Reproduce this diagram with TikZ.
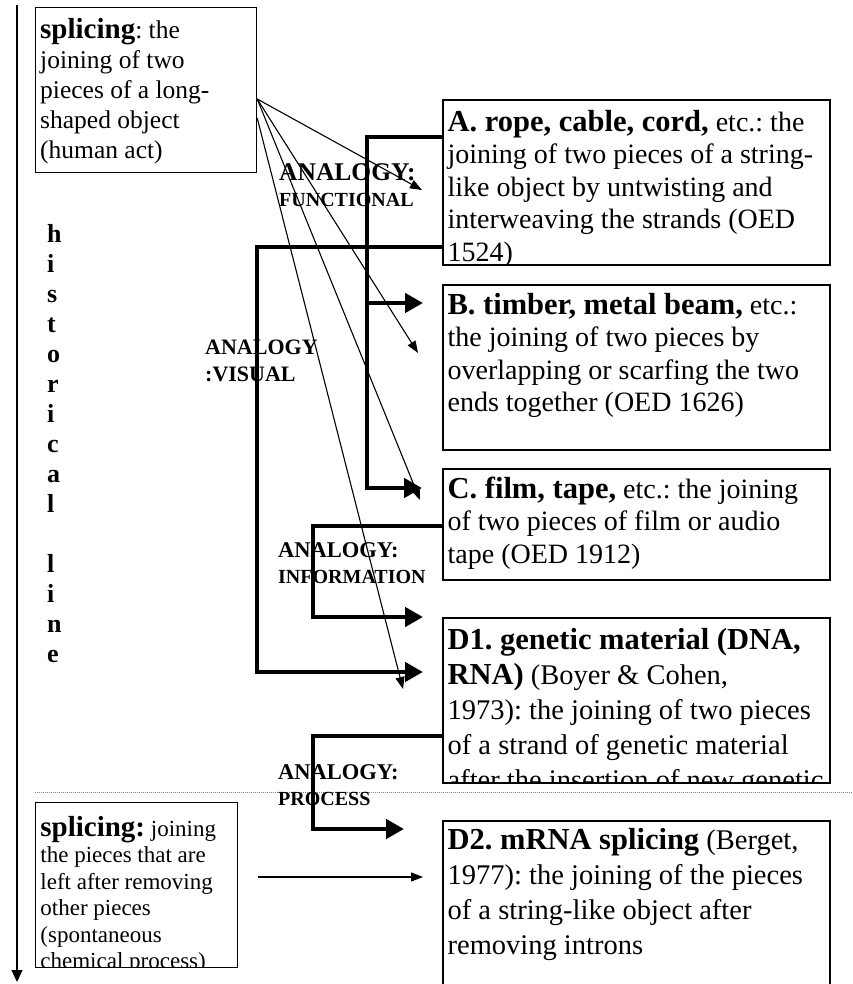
\documentclass[tikz,border=0pt]{standalone}
\usepackage{fontspec}
\setmainfont{Liberation Serif}
\usetikzlibrary{arrows.meta}

\newcommand{\entryhead}[2]{{\bfseries\fontsize{30.5}{#1}\selectfont #2}}

\tikzset{
  entry/.style={draw, line width=1.6pt, anchor=north west, inner sep=0pt, minimum width=387pt},
  entrytext/.style={draw=none, minimum width=0pt, minimum height=0pt, anchor=north west, inner sep=0pt, align=left, font=\fontsize{28}{32.5}\selectfont},
  bracket/.style={line width=4.5pt, -{Triangle[length=18pt,width=19pt]}},
  pointer/.style={line width=1.1pt, -{Triangle[length=12pt,width=9pt]}},
  tag/.style={anchor=north west, inner sep=0pt, align=left, font=\bfseries\fontsize{22.5}{26}\selectfont}
}

\begin{document}
\frenchspacing
\begin{tikzpicture}[x=1pt, y=-1pt]
\useasboundingbox (0,0) rectangle (852,984);

% time line on the left
\coordinate (past) at (17,5);
\coordinate (now) at (17,982);
\draw[line width=1.2pt, -{Triangle[length=12pt,width=11pt]}] (past) -- (now);
\node[anchor=north west, inner sep=0pt, align=left, font=\bfseries\fontsize{26}{30}\selectfont] (hist) at (47,224) {h\\i\\s\\t\\o\\r\\i\\c\\a\\l\\[30pt]l\\i\\n\\e};

% general meanings
\node[entry, line width=1.2pt, minimum width=221pt, minimum height=165pt, path picture={
  \node[entrytext, font=\fontsize{25.5}{30}\selectfont] at ([shift={(4,9)}]path picture bounding box.north west)
  {\strut{\bfseries\fontsize{29}{30}\selectfont splicing}: the\\joining of two\\pieces of a long-\\shaped object\\(human act)};}] (S1) at (35,7) {};
\node[entry, line width=1.4pt, minimum width=202pt, minimum height=165pt, path picture={
  \node[entrytext, font=\fontsize{23}{26.5}\selectfont] at ([shift={(4,12.5)}]path picture bounding box.north west)
  {\strut{\bfseries\fontsize{29}{26.5}\selectfont splicing:} joining\\the pieces that are\\left after removing\\other pieces\\(spontaneous\\chemical process)};}] (S2) at (35,802) {};

% special meanings
\node[entry, minimum height=165pt, path picture={
  \node[entrytext] at ([shift={(4,8)}]path picture bounding box.north west)
  {\strut\entryhead{32.5}{A. rope, cable, cord,} etc.: the\\joining of two pieces of a string-\\like object by untwisting and\\interweaving the strands (OED\\1524)};}] (A) at (442,99) {};
\node[entry, minimum height=165pt, path picture={
  \node[entrytext] at ([shift={(4,6)}]path picture bounding box.north west)
  {\strut\entryhead{32.5}{B. timber, metal beam,} etc.:\\the joining of two pieces by\\overlapping or scarfing the two\\ends together (OED 1626)};}] (B) at (442,284) {};
\node[entry, minimum height=111pt, path picture={
  \node[entrytext] at ([shift={(4,6)}]path picture bounding box.north west)
  {\strut\entryhead{32.5}{C. film, tape,} etc.: the joining\\of two pieces of film or audio\\tape (OED 1912)};}] (C) at (442,468) {};
\node[entry, minimum height=165pt, path picture={
  \node[entrytext, font=\fontsize{28.5}{35}\selectfont] at ([shift={(4,6.5)}]path picture bounding box.north west)
  {\strut\entryhead{35}{D1. genetic material (DNA,}\\\entryhead{35}{RNA)} (Boyer \& Cohen,\\1973): the joining of two pieces\\of a strand of genetic material\\after the insertion of new genetic};}] (D1) at (442,617) {};
\node[entry, minimum height=175pt, path picture={
  \node[entrytext, font=\fontsize{28.5}{35}\selectfont] at ([shift={(4,3.5)}]path picture bounding box.north west)
  {\strut\entryhead{35}{D2. mRNA splicing} (Berget,\\1977): the joining of the pieces\\of a string-like object after\\removing introns};}] (D2) at (442,820) {};

% border between the two periods
\draw[gray, line width=1pt, densely dotted] (35,792) -- (852,792);

% fan of thin arrows
\coordinate (fan) at ([shift={(0,92)}]S1.north east);
\coordinate (fan2) at ([shift={(0,111)}]S1.north east);
\coordinate (pA) at ([shift={(-20,91)}]A.north west);
\coordinate (pB) at ([shift={(-24,69)}]B.north west);
\coordinate (pC) at ([shift={(-22,32)}]C.north west);
\coordinate (pD) at ([shift={(-39,72)}]D1.north west);
\draw[pointer] (fan) -- (pA);
\draw[pointer] (fan) -- (pB);
\draw[pointer] (fan) -- (pC);
\draw[pointer] (fan2) -- (pD);
\coordinate (late) at ([shift={(20,75)}]S2.north east);
\coordinate (pE) at ([shift={(-19,57)}]D2.north west);
\draw[pointer] (late) -- (pE);

% analogy brackets
\coordinate (bB) at ([shift={(-19,19)}]B.north west);
\coordinate (bC) at ([shift={(-20,20)}]C.north west);
\coordinate (bDi) at ([shift={(-19,0)}]D1.north west);
\coordinate (bDv) at ([shift={(-19,55)}]D1.north west);
\coordinate (bE) at ([shift={(-38,9)}]D2.north west);
\draw[bracket] ([yshift=-38pt]A.north west) -- (367,137) -- (367,488) -- (bC);
\draw[bracket] (367,303) -- (bB);
\draw[bracket] ([yshift=-148pt]A.north west) -- (257,247) -- (257,672) -- (bDv);
\draw[bracket] ([yshift=-58pt]C.north west) -- (313,526) -- (313,617) -- (bDi);
\draw[bracket] ([yshift=-119pt]D1.north west) -- (313,736) -- (313,829) -- (bE);

\node[tag, font=\bfseries\fontsize{25.5}{26}\selectfont] (fun) at (279,163) {ANALOGY:\\{\fontsize{20}{26}\selectfont FUNCTIONAL}};
\node[tag, font=\bfseries\fontsize{22}{27}\selectfont] (vis) at (205,340) {ANALOGY\\:VISUAL};
\node[tag] (inf) at (278,542) {ANALOGY:\\{\fontsize{20}{25}\selectfont INFORMATION}};
\node[tag] (pro) at (278,764) {ANALOGY:\\{\fontsize{20}{24}\selectfont PROCESS}};
\end{tikzpicture}
\end{document}
